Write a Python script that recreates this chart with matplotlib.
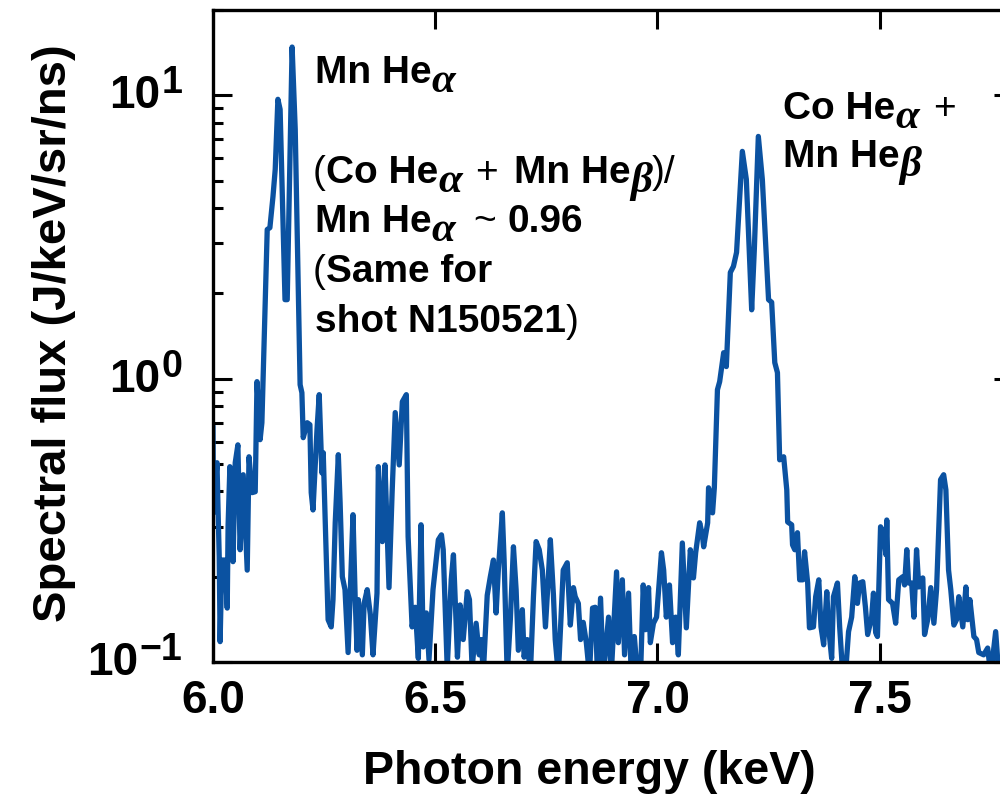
import matplotlib
matplotlib.use("Agg")
import matplotlib.pyplot as plt
from matplotlib.ticker import FixedLocator, NullLocator, LogLocator, NullFormatter

plt.rcParams['font.family'] = ['Liberation Sans', 'DejaVu Sans']
plt.rcParams['font.weight'] = 'bold'

# photon energy (keV) and spectral flux (J/keV/sr/ns)
energy = [
    6.000, 6.001, 6.009, 6.011, 6.014, 6.016, 6.020, 6.027, 6.032, 6.034,
    6.038, 6.045, 6.050, 6.056, 6.061, 6.068, 6.077, 6.081, 6.088, 6.095,
    6.099, 6.106, 6.110, 6.122, 6.128, 6.135, 6.140, 6.146, 6.151, 6.162,
    6.167, 6.178, 6.185, 6.196, 6.200, 6.203, 6.212, 6.218, 6.221, 6.225,
    6.234, 6.239, 6.245, 6.248, 6.257, 6.259, 6.266, 6.270, 6.275, 6.282,
    6.286, 6.291, 6.297, 6.304, 6.315, 6.320, 6.324, 6.327, 6.336, 6.340,
    6.347, 6.354, 6.360, 6.369, 6.372, 6.381, 6.387, 6.396, 6.403, 6.410,
    6.419, 6.426, 6.435, 6.439, 6.448, 6.455, 6.462, 6.468, 6.473, 6.480,
    6.486, 6.495, 6.502, 6.507, 6.514, 6.518, 6.527, 6.536, 6.541, 6.550,
    6.556, 6.563, 6.572, 6.577, 6.583, 6.592, 6.599, 6.604, 6.608, 6.617,
    6.624, 6.631, 6.637, 6.642, 6.651, 6.655, 6.662, 6.669, 6.676, 6.682,
    6.687, 6.696, 6.700, 6.707, 6.714, 6.721, 6.727, 6.734, 6.741, 6.748,
    6.755, 6.759, 6.766, 6.770, 6.777, 6.788, 6.797, 6.804, 6.811, 6.815,
    6.822, 6.827, 6.833, 6.840, 6.847, 6.854, 6.860, 6.865, 6.872, 6.878,
    6.890, 6.896, 6.908, 6.912, 6.921, 6.926, 6.935, 6.941, 6.948, 6.955,
    6.962, 6.968, 6.973, 6.980, 6.984, 6.991, 6.998, 7.009, 7.014, 7.020,
    7.027, 7.034, 7.041, 7.047, 7.056, 7.065, 7.074, 7.081, 7.086, 7.095,
    7.101, 7.104, 7.113, 7.115, 7.124, 7.128, 7.135, 7.140, 7.149, 7.155,
    7.164, 7.171, 7.178, 7.191, 7.200, 7.212, 7.218, 7.227, 7.236, 7.250,
    7.257, 7.264, 7.270, 7.275, 7.284, 7.291, 7.293, 7.302, 7.304, 7.309,
    7.315, 7.320, 7.327, 7.331, 7.338, 7.342, 7.351, 7.356, 7.363, 7.368,
    7.374, 7.381, 7.385, 7.392, 7.396, 7.405, 7.410, 7.417, 7.423, 7.430,
    7.437, 7.444, 7.450, 7.455, 7.462, 7.468, 7.473, 7.482, 7.486, 7.491,
    7.495, 7.502, 7.509, 7.514, 7.516, 7.520, 7.529, 7.536, 7.543, 7.552,
    7.556, 7.561, 7.565, 7.572, 7.577, 7.583, 7.588, 7.597, 7.601, 7.608,
    7.615, 7.622, 7.628, 7.637, 7.644, 7.649, 7.655, 7.660, 7.667, 7.673,
    7.678, 7.687, 7.694, 7.698, 7.703, 7.712, 7.718, 7.723, 7.734, 7.743,
    7.750, 7.761, 7.768, 7.779,
]
flux = [
    0.671, 0.336, 0.505, 0.365, 0.235, 0.118, 0.229, 0.229, 0.155, 0.305,
    0.489, 0.226, 0.505, 0.584, 0.249, 0.458, 0.211, 0.530, 0.396, 0.399,
    0.976, 0.609, 0.699, 3.36, 3.41, 4.40, 5.48, 9.68, 8.92, 1.90,
    1.90, 14.8, 7.59, 0.952, 0.892, 0.619, 0.699, 0.688, 0.396, 0.344,
    0.661, 0.878, 0.465, 0.548, 0.180, 0.141, 0.133, 0.166, 0.310, 0.539,
    0.365, 0.200, 0.180, 0.108, 0.331, 0.166, 0.110, 0.166, 0.106, 0.161,
    0.180, 0.147, 0.106, 0.175, 0.489, 0.266, 0.496, 0.183, 0.396, 0.759,
    0.496, 0.829, 0.878, 0.277, 0.133, 0.156, 0.103, 0.305, 0.113, 0.149,
    0.102, 0.180, 0.229, 0.270, 0.281, 0.249, 0.095, 0.195, 0.239, 0.104,
    0.159, 0.120, 0.177, 0.166, 0.095, 0.137, 0.106, 0.120, 0.090, 0.172,
    0.200, 0.229, 0.149, 0.211, 0.336, 0.229, 0.090, 0.141, 0.255, 0.180,
    0.110, 0.153, 0.104, 0.120, 0.090, 0.170, 0.266, 0.249, 0.211, 0.133,
    0.206, 0.270, 0.172, 0.120, 0.090, 0.211, 0.224, 0.135, 0.183, 0.170,
    0.161, 0.120, 0.138, 0.117, 0.090, 0.155, 0.156, 0.090, 0.168, 0.090,
    0.144, 0.090, 0.208, 0.117, 0.195, 0.106, 0.175, 0.090, 0.123, 0.090,
    0.090, 0.187, 0.130, 0.183, 0.117, 0.137, 0.144, 0.243, 0.211, 0.144,
    0.187, 0.117, 0.144, 0.106, 0.263, 0.132, 0.249, 0.198, 0.243, 0.310,
    0.281, 0.255, 0.310, 0.412, 0.336, 0.412, 0.914, 0.976, 1.235, 1.103,
    2.37, 2.49, 2.79, 6.34, 5.05, 1.75, 2.86, 7.16, 5.05, 1.90,
    1.86, 1.139, 1.050, 0.517, 0.530, 0.405, 0.312, 0.305, 0.259, 0.249,
    0.286, 0.195, 0.195, 0.245, 0.190, 0.132, 0.133, 0.170, 0.195, 0.133,
    0.115, 0.177, 0.133, 0.103, 0.170, 0.190, 0.133, 0.090, 0.090, 0.128,
    0.144, 0.200, 0.161, 0.190, 0.192, 0.156, 0.125, 0.144, 0.175, 0.127,
    0.123, 0.300, 0.286, 0.239, 0.317, 0.166, 0.161, 0.137, 0.195, 0.200,
    0.187, 0.249, 0.190, 0.190, 0.144, 0.249, 0.184, 0.198, 0.125, 0.141,
    0.183, 0.137, 0.180, 0.440, 0.458, 0.405, 0.211, 0.180, 0.135, 0.141,
    0.170, 0.133, 0.184, 0.141, 0.166, 0.123, 0.120, 0.108, 0.106, 0.112,
    0.090, 0.128, 0.090, 0.120,
]

xticks = [6.0, 6.5, 7.0, 7.5]
xticklabels = ['6.0', '6.5', '7.0', '7.5']
yticks = [0.1, 1, 10]
yexps = ['\u22121', '0', '1']

W, H = 1000, 808
fig = plt.figure(figsize=(W / 100, H / 100), dpi=100)
ax = fig.add_axes([0.213, 1 - 662 / H, 0.80, 652 / H])

ax.plot(energy, flux, color='#0b52a1', lw=3.8, solid_joinstyle='round')

ax.set_yscale('log')
ax.set_xlim(6.0, 7.80)
ax.set_ylim(0.1, 20)
ax.xaxis.set_major_locator(FixedLocator(xticks))
ax.set_xticklabels(xticklabels)
ax.xaxis.set_minor_locator(NullLocator())
ax.yaxis.set_major_locator(FixedLocator(yticks))
ax.yaxis.set_major_formatter(NullFormatter())
ax.yaxis.set_minor_locator(LogLocator(base=10, subs=range(2, 10), numticks=20))
ax.yaxis.set_minor_formatter(NullFormatter())

ax.tick_params(which='both', direction='in', top=True, right=True, width=2.2)
ax.tick_params(which='major', length=14)
ax.tick_params(which='minor', length=7)
ax.tick_params(axis='x', pad=12, labelsize=33)
for s in ax.spines.values():
    s.set_linewidth(2.4)
ax.spines['right'].set_visible(False)

renderer = fig.canvas.get_renderer()

# y tick labels as 10 with a large superscript, right edge ~31 px left of spine
for v, e in zip(yticks, yexps):
    _, yd = ax.transData.transform((6.0, v))
    te = fig.text(182, yd + 2, e, fontsize=27, transform=None,
                  ha='right', va='baseline')
    we = te.get_window_extent(renderer).width
    fig.text(182 - we - 1, yd - 13, '10', fontsize=33, transform=None,
             ha='right', va='baseline')

fig.text(0.054, 1 - 333 / H, 'Spectral flux (J/keV/sr/ns)', rotation=90,
         ha='center', va='center', fontsize=34)
fig.text(0.589, 1 - 772 / H, 'Photon energy (keV)', ha='center',
         va='center', fontsize=33.5)

# annotations: bold text, regular-weight signs, full-size lowered greek
fs = 28
styles = {
    'b': dict(family=['Liberation Sans'], weight='bold', style='normal', size=fs, dy=0),
    'r': dict(family=['Liberation Sans'], weight='normal', style='normal', size=fs, dy=0),
    'g': dict(family=['Liberation Serif'], weight='bold', style='italic', size=31, dy=-9),
}


def rich(x_px, y_px, pieces):
    x = x_px
    for s, kind in pieces:
        if kind == 'gap':
            x += s
            continue
        st = styles[kind]
        t = fig.text(x / W, 1 - (y_px - st['dy']) / H, s, fontsize=st['size'],
                     family=st['family'], fontweight=st['weight'],
                     fontstyle=st['style'], va='baseline', ha='left')
        x += t.get_window_extent(renderer).width


rich(315, 83, [('Mn He', 'b'), ('α', 'g')])
rich(313, 183, [('(', 'r'), ('Co He', 'b'), ('α', 'g'), (13, 'gap'), ('+', 'r'),
                (16, 'gap'), ('Mn He', 'b'), ('β', 'g'), (')/', 'r')])
rich(315, 232, [('Mn He', 'b'), ('α', 'g'), (18, 'gap'), ('~', 'r'),
                (11, 'gap'), ('0.96', 'b')])
rich(313, 282, [('(', 'r'), ('Same for', 'b')])
rich(315, 332, [('shot N150521', 'b'), (')', 'r')])
rich(783, 119, [('Co He', 'b'), ('α', 'g'), (14, 'gap'), ('+', 'r')])
rich(783, 167, [('Mn He', 'b'), ('β', 'g')])

fig.savefig('out.png', dpi=100)
